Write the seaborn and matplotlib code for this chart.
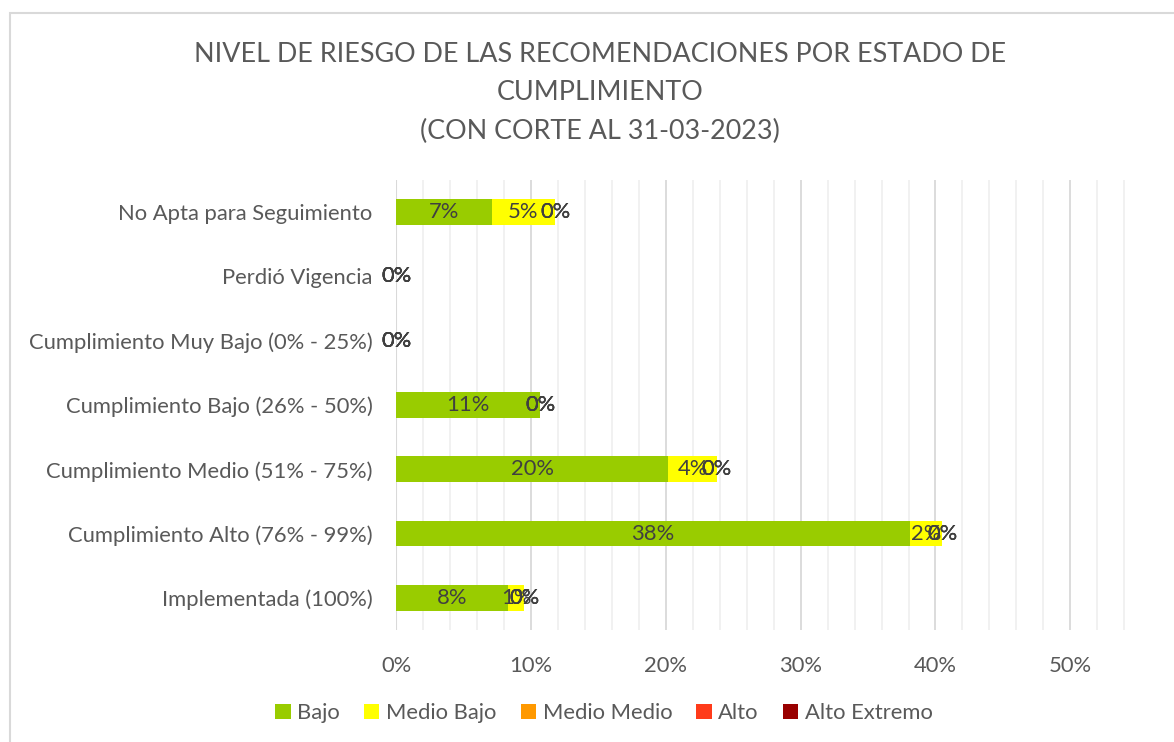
import pandas as pd
import matplotlib
matplotlib.use("Agg")
import matplotlib.pyplot as plt
from matplotlib.ticker import MultipleLocator, FuncFormatter
from matplotlib.patches import Patch, Rectangle
import seaborn as sns

# data (percent of recommendations)
estados = [
    "No Apta para Seguimiento",
    "Perdió Vigencia",
    "Cumplimiento Muy Bajo (0% - 25%)",
    "Cumplimiento Bajo (26% - 50%)",
    "Cumplimiento Medio (51% - 75%)",
    "Cumplimiento Alto (76% - 99%)",
    "Implementada (100%)",
]
niveles = ["Bajo", "Medio Bajo", "Medio Medio", "Alto", "Alto Extremo"]
bajo = [7.1, 0, 0, 10.7, 20.2, 38.1, 8.3]
medio_bajo = [4.7, 0, 0, 0, 3.6, 2.4, 1.2]
medio_medio = [0, 0, 0, 0, 0, 0, 0]
alto = [0, 0, 0, 0, 0, 0, 0]
alto_extremo = [0, 0, 0, 0, 0, 0, 0]
colores = ["#99CC00", "#FFFF00", "#FF9900", "#FF3B1A", "#990000"]

TEXT = "#595959"
FONT = "Lato"
FS = 15.8

df = pd.DataFrame({"estado": estados, "Bajo": bajo, "Medio Bajo": medio_bajo,
                   "Medio Medio": medio_medio, "Alto": alto,
                   "Alto Extremo": alto_extremo})
acum = df[niveles].cumsum(axis=1)

sns.set_theme(style="white")
plt.rcParams["font.family"] = [FONT, "DejaVu Sans"]

fig = plt.figure(figsize=(11.74, 7.42), dpi=100)
W, H = 1174, 742
ax = fig.add_axes([396 / W, 1 - 630 / H, (1127 - 396) / W, (630 - 180) / H])

# stacked bars: draw cumulative totals from the last level backwards
for nivel, color in reversed(list(zip(niveles, colores))):
    sub = pd.DataFrame({"estado": estados, "valor": acum[nivel]})
    sns.barplot(data=sub, x="valor", y="estado", order=estados, orient="h",
                color=color, saturation=1, width=0.4, linewidth=0,
                ax=ax, zorder=3)

# segment labels
for i, est in enumerate(estados):
    prev = 0
    for nivel in niveles:
        v = df.loc[i, nivel]
        ax.text(prev + v / 2, i, f"{v:.0f}%", ha="center", va="center",
                fontsize=FS, color="#404040", zorder=4)
        prev += v

ax.set_xlim(0, 54.2)
ax.set_ylim(6.5, -0.5)
ax.xaxis.set_major_locator(MultipleLocator(10))
ax.xaxis.set_minor_locator(MultipleLocator(2))
ax.xaxis.set_major_formatter(FuncFormatter(lambda x, p: f"{x:.0f}%"))
ax.grid(axis="x", which="major", color="#D9D9D9", lw=1.3, zorder=0)
ax.grid(axis="x", which="minor", color="#F0F0F0", lw=1.3, zorder=0)
ax.set_axisbelow(True)
ax.axvline(0, color="#D9D9D9", lw=1.5, zorder=1)
for s in ax.spines.values():
    s.set_visible(False)
ax.tick_params(axis="x", which="both", length=0, pad=19, labelsize=FS,
               labelcolor=TEXT)
ax.tick_params(axis="y", length=0, pad=17, labelsize=FS, labelcolor=TEXT)
ax.set_xlabel("")
ax.set_ylabel("")

# title
fig.text(600 / W, 1 - 55 / H, "NIVEL DE RIESGO DE LAS RECOMENDACIONES POR ESTADO DE",
         ha="center", va="center", fontsize=19.4, color=TEXT)
fig.text(600 / W, 1 - 93 / H, "CUMPLIMIENTO", ha="center", va="center",
         fontsize=19.4, color=TEXT)
fig.text(600 / W, 1 - 131 / H, "(CON CORTE AL 31-03-2023)", ha="center",
         va="center", fontsize=19.4, color=TEXT)

# legend
handles = [Patch(facecolor=c, edgecolor="none", label=n)
           for n, c in zip(niveles, colores)]
fig.legend(handles=handles, loc="center", bbox_to_anchor=(604 / W, 1 - 713 / H),
           ncol=5, frameon=False, fontsize=FS, labelcolor=TEXT,
           handlelength=0.7, handleheight=0.7, handletextpad=0.3,
           columnspacing=1.1)

# chart border
fig.patches.append(Rectangle((10 / W, -0.1), 1.2, 1 - 13 / H + 0.1,
                             transform=fig.transFigure, fill=False,
                             edgecolor="#D9D9D9", lw=1.5))

fig.savefig("out.png", dpi=100)
